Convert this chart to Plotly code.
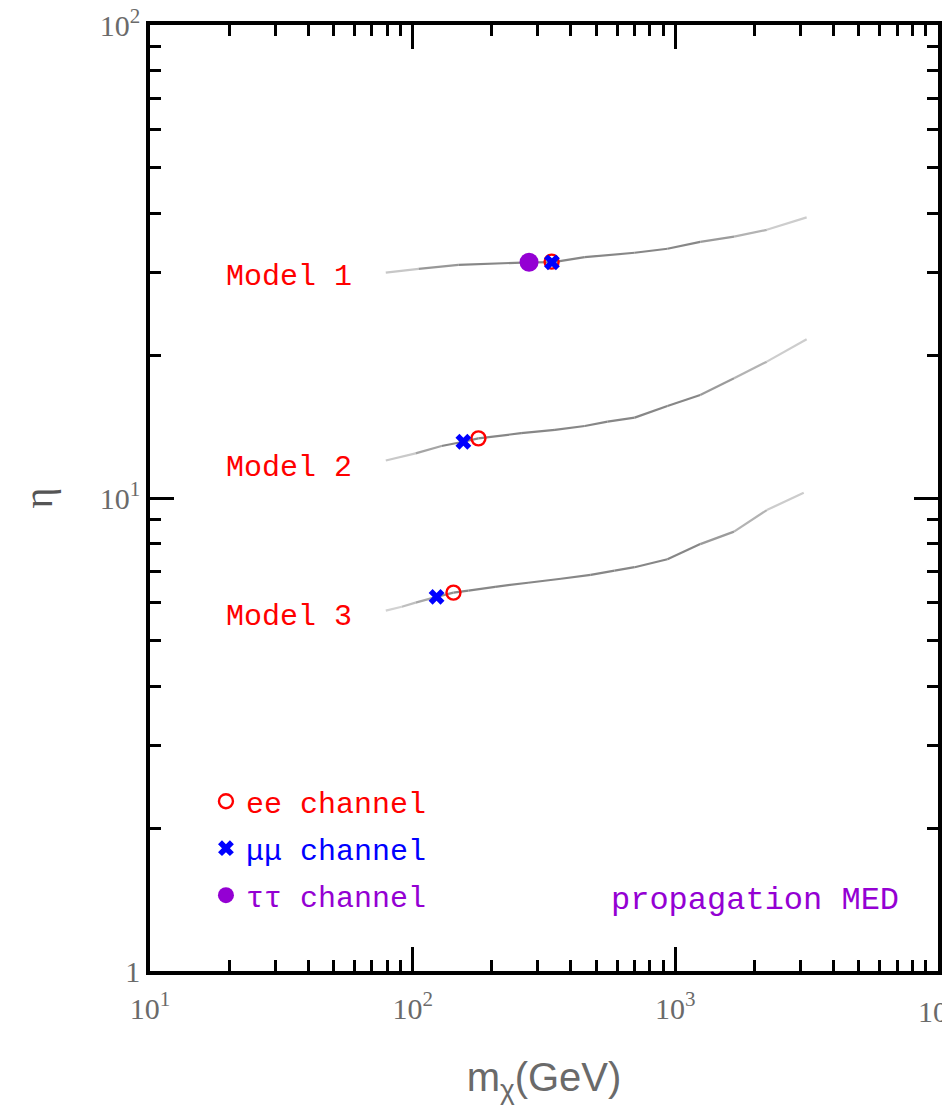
import plotly.graph_objects as go
import math

# ---- data ----
m1_x = [79.0, 105.4, 149.3, 277.4, 339, 452, 700, 933, 1244, 1673, 2230, 3162]
m1_y = [29.95, 30.5, 31.1, 31.5, 31.5, 32.3, 33.0, 33.65, 34.8, 35.7, 36.9, 39.2]

m2_x = [79.0, 102.6, 128.8, 156, 177.8, 258.8, 348, 452, 552, 700, 933, 1244, 1673, 2230, 3162]
m2_y = [12.0, 12.43, 12.88, 13.15, 13.37, 13.71, 13.93, 14.2, 14.5, 14.79, 15.65, 16.51, 17.91, 19.42, 21.65]

m3_x = [79.0, 90.9, 102.6, 123.3, 143, 163, 206, 275, 367, 476, 587, 700, 933, 1244, 1673, 2230, 3082]
m3_y = [5.78, 5.89, 6.01, 6.18, 6.31, 6.37, 6.49, 6.62, 6.75, 6.88, 7.02, 7.14, 7.42, 7.99, 8.49, 9.43, 10.26]

ee_x = [338, 178, 143]
ee_y = [31.6, 13.37, 6.31]
mumu_x = [339, 156, 123.3]
mumu_y = [31.5, 13.15, 6.18]
tautau_x = [277.4]
tautau_y = [31.5]

model_labels = ["Model 1", "Model 2", "Model 3"]
x_tickvals = [10, 100, 1000]
x_ticktext = ["10<sup>1</sup>", "10<sup>2</sup>", "10<sup>3</sup>"]
x_edge_label = "10<sup>4</sup>"
y_tickvals = [1, 10, 100]
y_ticktext = ["1", "10<sup>1</sup>", "10<sup>2</sup>"]

RED = "#ff0000"
BLUE = "#0000ff"
PURPLE = "#9400d3"
MONO = "Liberation Mono"
LABEL_GRAY = "#6a6a6a"

fig = go.Figure()


def shade(lx):
    # darker in the middle of each curve, lighter towards both ends
    lo, hi = 2.15, 3.05
    if lo <= lx <= hi:
        g = 135
    elif lx < lo:
        g = 135 + (lo - lx) / (lo - 1.9) * 85
    else:
        g = 135 + (lx - hi) / (3.5 - hi) * 85
    g = int(max(130, min(222, g)))
    return f"rgb({g},{g},{g})"


for xs, ys in [(m1_x, m1_y), (m2_x, m2_y), (m3_x, m3_y)]:
    for i in range(len(xs) - 1):
        mid = 0.5 * (math.log10(xs[i]) + math.log10(xs[i + 1]))
        fig.add_trace(go.Scatter(
            x=xs[i:i + 2], y=ys[i:i + 2], mode="lines",
            line=dict(color=shade(mid), width=2.2),
            showlegend=False, hoverinfo="skip"))

fig.add_trace(go.Scatter(
    x=ee_x, y=ee_y, mode="markers", legendgroup="ee",
    marker=dict(symbol="circle-open", size=14, color=RED, line=dict(width=2.4, color=RED)),
    name=f"<span style='color:{RED}'>ee channel</span>"))
fig.add_trace(go.Scatter(
    x=mumu_x, y=mumu_y, mode="markers", legendgroup="mumu",
    marker=dict(symbol="x", size=14, color=BLUE, line=dict(width=0)),
    name=f"<span style='color:{BLUE}'>μμ channel</span>"))
fig.add_trace(go.Scatter(
    x=tautau_x, y=tautau_y, mode="markers", legendgroup="tautau",
    marker=dict(symbol="circle", size=19, color=PURPLE),
    name=f"<span style='color:{PURPLE}'>ττ channel</span>"))

# model labels
for lab, yp in zip(model_labels, [0.7336, 0.5317, 0.3742]):
    fig.add_annotation(text=lab, xref="paper", yref="paper", x=0.2588, y=yp,
                       xanchor="right", yanchor="middle", showarrow=False,
                       font=dict(family=MONO, size=30, color=RED))

fig.add_annotation(text="propagation MED", xref="paper", yref="paper", x=0.953, y=0.075,
                   xanchor="right", yanchor="middle", showarrow=False,
                   font=dict(family=MONO, size=32, color=PURPLE))

# tick label at the right edge (cut by the page, as in the original)
fig.add_annotation(text=x_edge_label, xref="paper", yref="paper", x=1.0, y=0,
                   yshift=-38, xanchor="center", yanchor="middle", showarrow=False,
                   font=dict(family="Liberation Serif", size=30, color=LABEL_GRAY))

axis_common = dict(
    showline=True, linecolor="black", linewidth=3.5, mirror="allticks",
    ticks="inside", ticklen=24, tickwidth=3, tickcolor="black",
    showgrid=False, zeroline=False,
    minor=dict(ticks="inside", ticklen=11, tickwidth=3, tickcolor="black",
               dtick="D1", showgrid=False),
    tickfont=dict(family="Liberation Serif", size=30, color=LABEL_GRAY),
)

fig.update_xaxes(type="log", range=[1, 4], tickvals=x_tickvals, ticktext=x_ticktext,
                 ticklabelstandoff=8,
                 title=dict(text="m<sub>χ</sub>(GeV)",
                            font=dict(family="Liberation Sans", size=40, color=LABEL_GRAY),
                            standoff=40),
                 **axis_common)
fig.update_yaxes(type="log", range=[0, 2], tickvals=y_tickvals, ticktext=y_ticktext,
                 title=dict(text="η",
                            font=dict(family="Liberation Serif", size=40, color="#555555"),
                            standoff=36),
                 **axis_common)

fig.update_layout(
    width=942, height=1105,
    margin=dict(l=150, r=0, t=25, b=134),
    paper_bgcolor="white", plot_bgcolor="white",
    showlegend=True,
    legend=dict(x=0.071, y=0.207, xanchor="left", yanchor="top",
                bgcolor="rgba(0,0,0,0)", borderwidth=0,
                font=dict(family=MONO, size=30),
                itemwidth=30, tracegroupgap=5),
)

fig.write_html("out.html")
